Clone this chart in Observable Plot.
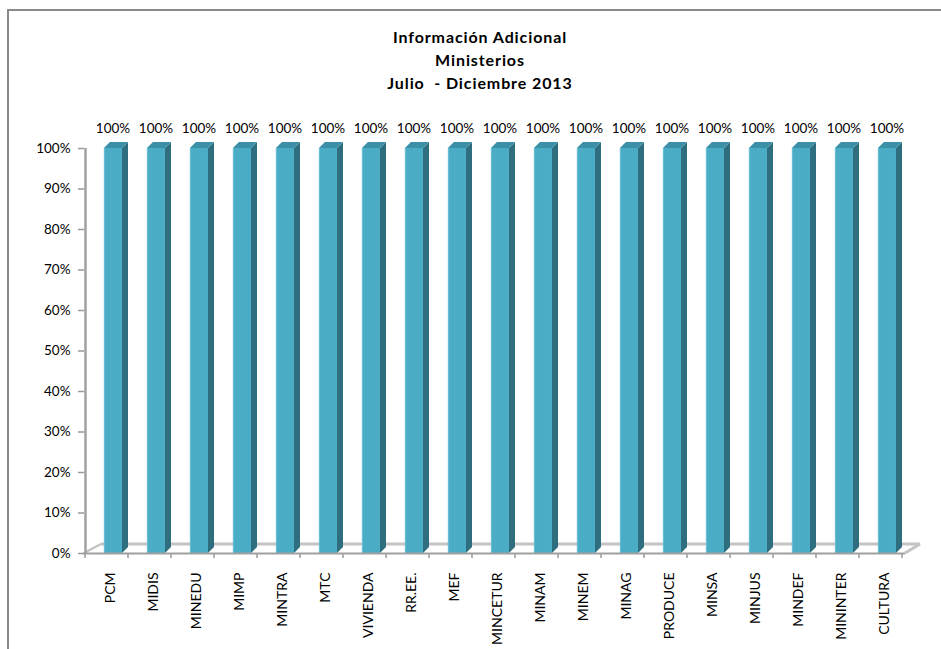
<!DOCTYPE html>
<html>
<head>
<meta charset="utf-8">
<script src="https://cdn.jsdelivr.net/npm/d3@7"></script>
<script src="https://cdn.jsdelivr.net/npm/@observablehq/plot@0.6"></script>
<style>
  html, body { margin: 0; padding: 0; background: #fff; }
  #wrap { position: relative; width: 941px; height: 649px; overflow: hidden; font-family: Lato, "Open Sans", sans-serif; }
  #border { position: absolute; left: 7px; top: 9px; width: 960px; height: 700px; border: 2px solid #8a8a8a; box-sizing: border-box; }
  #title { position: absolute; left: 280px; width: 400px; top: 25px; text-align: center; font-weight: bold; font-size: 16px; letter-spacing: 0.9px; line-height: 23px; color: #000; }
  #chart { position: absolute; left: 0; top: 0; }
</style>
</head>
<body>
<div id="wrap">
  <div id="border"></div>
  <div id="chart"></div>
  <div id="title"></div>
</div>
<script>
const tituloLineas = ["Información Adicional", "Ministerios", "Julio  - Diciembre 2013"];
const categorias = ["PCM","MIDIS","MINEDU","MIMP","MINTRA","MTC","VIVIENDA","RR.EE.","MEF","MINCETUR","MINAM","MINEM","MINAG","PRODUCE","MINSA","MINJUS","MINDEF","MININTER","CULTURA"];
const valores = [1,1,1,1,1,1,1,1,1,1,1,1,1,1,1,1,1,1,1];
const ticksY = [0,0.1,0.2,0.3,0.4,0.5,0.6,0.7,0.8,0.9,1];

document.getElementById("title").innerHTML = tituloLineas.map(t => `<div style="white-space:pre">${t}</div>`).join("");

const data = categorias.map((c, i) => ({cat: c, val: valores[i]}));

const FRONT = "#4bacc6", SIDE = "#2f6e7e", TOP = "#3b90a8";

function bars3d(index, scales, values, dimensions) {
  const g = d3.create("svg:g");
  const bw = scales.x.bandwidth();
  const yb = scales.y(0);
  const fl = 0.44 * bw, fw = 0.42 * bw, d = 0.14 * bw;
  for (const i of index) {
    const x0 = scales.x(data[i].cat);
    const yt = scales.y(data[i].val);
    const a = x0 + fl, b = x0 + fl + fw;
    g.append("polygon").attr("points", [[b, yb], [b + d, yb - d], [b + d, yt - d], [b, yt]].join(" ")).attr("fill", SIDE);
    g.append("polygon").attr("points", [[a, yt], [a + d, yt - d], [b + d, yt - d], [b, yt]].join(" ")).attr("fill", TOP);
    g.append("rect").attr("x", a).attr("y", yt).attr("width", fw).attr("height", yb - yt).attr("fill", FRONT);
    g.append("line").attr("x1", a + 0.5).attr("x2", a + 0.5).attr("y1", yt).attr("y2", yb).attr("stroke", "#6cc0d6").attr("stroke-width", 1);
  }
  return g.node();
}

function floor3d(index, scales, values, dimensions) {
  const g = d3.create("svg:g");
  const yb = scales.y(0);
  const xl = dimensions.marginLeft, xr = dimensions.width - dimensions.marginRight + 2;
  const dx = 17, dy = 9;
  g.append("line").attr("x1", xl + dx).attr("x2", xr + dx - 2).attr("y1", yb - dy).attr("y2", yb - dy).attr("stroke", "#c4c4c4").attr("stroke-width", 3);
  g.append("line").attr("x1", xl).attr("x2", xl + dx).attr("y1", yb).attr("y2", yb - dy).attr("stroke", "#c4c4c4").attr("stroke-width", 2.5);
  g.append("line").attr("x1", xr).attr("x2", xr + dx - 2).attr("y1", yb).attr("y2", yb - dy).attr("stroke", "#c4c4c4").attr("stroke-width", 3);
  return g.node();
}

function axesLines(index, scales, values, dimensions) {
  const g = d3.create("svg:g");
  const bw = scales.x.bandwidth();
  const yb = scales.y(0);
  const yt = scales.y(1);
  const pos = categorias.map(c => scales.x(c)).concat([scales.x(categorias[categorias.length - 1]) + bw]);
  for (const p of pos) {
    g.append("line").attr("x1", p).attr("x2", p).attr("y1", yb).attr("y2", yb + 5).attr("stroke", "#999").attr("stroke-width", 1.5);
  }
  g.append("line").attr("x1", dimensions.marginLeft - 1).attr("x2", dimensions.width - dimensions.marginRight + 2).attr("y1", yb + 0.5).attr("y2", yb + 0.5).attr("stroke", "#a0a0a0").attr("stroke-width", 2);
  g.append("line").attr("x1", dimensions.marginLeft + 1.5).attr("x2", dimensions.marginLeft + 1.5).attr("y1", yt).attr("y2", yb + 1).attr("stroke", "#a0a0a0").attr("stroke-width", 2.5);
  return g.node();
}

const chart = Plot.plot({
  width: 941,
  height: 649,
  marginLeft: 84,
  marginRight: 38,
  marginTop: 148,
  marginBottom: 96,
  style: {fontFamily: "Lato, 'Open Sans', sans-serif", fontSize: "13.5px", color: "#000", background: "transparent"},
  x: {domain: categorias, padding: 0, label: null},
  y: {domain: [0, 1], label: null},
  marks: [
    Plot.ruleY([0], {render: floor3d}),
    Plot.barY(data, {x: "cat", y: "val", render: bars3d}),
    Plot.ruleY([0], {render: axesLines}),
    Plot.axisY({ticks: ticksY, tickFormat: d3.format(".0%"), tickSize: 6, tickPadding: 8, stroke: "#999", strokeWidth: 1.5, fill: "#000", fontSize: 13.5, label: null}),
    Plot.axisX({tickSize: 0, tickRotate: -90, tickPadding: 19, dx: 4, fontSize: 14, fill: "#000", label: null}),
    Plot.text(data, {x: "cat", y: "val", text: d => d3.format(".0%")(d.val), dx: 6, dy: -20, fontSize: 13.5, fill: "#000"})
  ]
});
document.getElementById("chart").appendChild(chart);
</script>
</body>
</html>
